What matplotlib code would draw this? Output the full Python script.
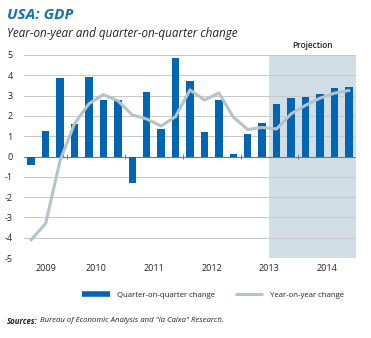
import numpy as np
import matplotlib.pyplot as plt
from matplotlib.lines import Line2D

# quarters 2009Q2 .. 2014Q4
quarters = [f"{y}Q{q}" for y in range(2009, 2015) for q in range(1, 5)][1:]
qoq = [-0.4, 1.25, 3.85, 1.6, 3.9, 2.8, 2.8, -1.3, 3.2, 1.35, 4.85, 3.7,
       1.2, 2.78, 0.12, 1.1, 1.65, 2.6, 2.9, 2.93, 3.1, 3.35, 3.43]
yoy = [-4.1, -3.3, -0.2, 1.62, 2.6, 3.05, 2.75, 2.05, 1.85, 1.5, 1.97, 3.28,
       2.78, 3.13, 1.94, 1.33, 1.43, 1.36, 2.1, 2.52, 2.87, 3.12, 3.25]
years = ["2009", "2010", "2011", "2012", "2013", "2014"]
projection_start = "2013Q3"

blue = "#0066b3"
grey_line = "#b5c4ca"
shade = "#d1dee6"
txt = "#222222"
font = "Open Sans"

fig = plt.figure(figsize=(3.71, 3.38), dpi=100)
ax = fig.add_axes([24 / 371, 1 - 258 / 338, 332 / 371, 203 / 338])

x = np.arange(len(quarters))
ax.set_xlim(-0.5, len(quarters) - 0.5)
ax.set_ylim(-5, 5)

ps = quarters.index(projection_start) - 0.5
ax.axvspan(ps, len(quarters) - 0.5, color=shade, lw=0, zorder=0)
ax.text((ps + len(quarters) - 0.5) / 2, 5.25, "Projection", ha="center",
        va="bottom", fontsize=6, family=font, fontweight="semibold", color=txt)

for v in range(-5, 6):
    ax.axhline(v, color="#c8c8c8", lw=0.7, zorder=1)
ax.axhline(0, color="#777777", lw=0.8, zorder=1)

ax.bar(x, qoq, width=0.52, color=blue, zorder=2)
ax.plot(x, yoy, color=grey_line, lw=2.2, zorder=3)

# year boundaries and centres
qyears = np.array([int(q[:4]) for q in quarters])
bounds = [x[qyears == int(y)][-1] + 0.5 for y in years]
centres = [(max(x[qyears == int(y)][0] - 0.5, -0.5) + x[qyears == int(y)][-1] + 0.5) / 2
           for y in years]
ax.vlines(bounds[:-1], -0.12, 0.12, color="#777777", lw=0.7, zorder=1)

ax.set_xticks(centres)
ax.set_xticklabels(years, fontsize=6.5, family=font, color=txt)
ax.tick_params(axis="x", length=0, pad=4)
ax.set_yticks(range(-5, 6))
ax.set_yticklabels([str(v) for v in range(-5, 6)], fontsize=6.5,
                   family=font, color=txt)
ax.tick_params(axis="y", length=0, pad=8)
for s in ax.spines.values():
    s.set_visible(False)

fig.text(7 / 371, 1 - 15 / 338, "USA: GDP", fontsize=11, fontweight="bold",
         style="italic", color="#1170b8", family=font, va="center")
fig.text(7 / 371, 1 - 34 / 338, "Year-on-year and quarter-on-quarter change",
         fontsize=8.4, style="italic", color=txt, family=font, va="center")

handles = [Line2D([], [], color=blue, lw=4, solid_capstyle="butt"),
           Line2D([], [], color=grey_line, lw=2.2, solid_capstyle="butt")]
fig.legend(handles, ["Quarter-on-quarter change", "Year-on-year change"],
           loc="center", bbox_to_anchor=(213 / 371, 1 - 295 / 338), ncol=2,
           frameon=False, prop={"family": font, "size": 5.6},
           handlelength=3.6, columnspacing=2.6, handletextpad=0.9,
           labelcolor=txt)

t1 = fig.text(7 / 371, 1 - 321 / 338, "Sources:", fontsize=5.7,
              fontweight="bold", style="italic", color=txt, family=font,
              va="center")
fig.canvas.draw()
bb = t1.get_window_extent()
fig.text((bb.x1 + 2) / 371, 1 - 321 / 338,
         "Bureau of Economic Analysis and \"la Caixa\" Research.",
         fontsize=5.6, style="italic", color=txt, family=font, va="center")

fig.savefig("out.png", dpi=100)
